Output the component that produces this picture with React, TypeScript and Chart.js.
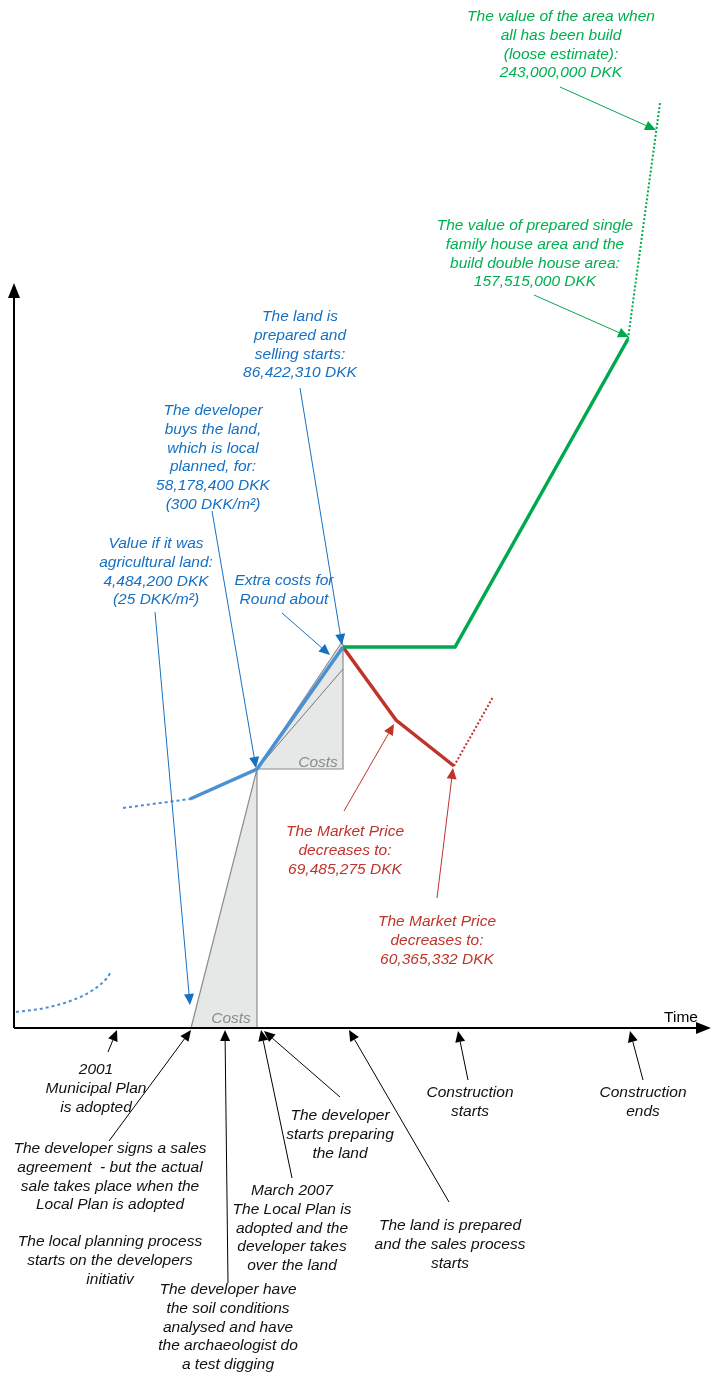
import React, { useEffect, useRef } from "react";
import { Chart, registerables } from "chart.js";

Chart.register(...registerables);

// ---- Data (x = time, y = value; origin where the two axes meet) ----
const bluePreTime = [16, 45, 73, 93, 107, 111];
const bluePreValue = [16, 20, 28, 38, 50, 56];
const blueDotTime = [123, 190];
const blueDotValue = [220, 229];
const blueTime = [190, 257, 343];
const blueValue = [229, 259, 381];
const greenTime = [343, 455, 628];
const greenValue = [381, 381, 689];
const greenDotTime = [628, 660];
const greenDotValue = [689, 925];
const redTime = [343, 396, 454];
const redValue = [381, 308, 262];
const redDotTime = [454, 493];
const redDotValue = [262, 331];
const costLowTime = [191, 257, 257, 191];
const costLowValue = [0, 259, 0, 0];
const costHighTime = [257, 342, 343, 343, 257];
const costHighValue = [259, 386, 383, 259, 259];
const costInnerTime = [257, 343];
const costInnerValue = [259, 359];
const timeAxisTime = [14, 711];
const valueAxisValue = [0, 745];

// ---- Annotation texts ----
const greenNotes = [
  ["The value of the area when", "all has been build", "(loose estimate):", "243,000,000 DKK"],
  ["The value of prepared single", "family house area and the", "build double house area:", "157,515,000 DKK"],
];
const blueNotes = [
  ["The land is", "prepared and", "selling starts:", "86,422,310 DKK"],
  ["The developer", "buys the land,", "which is local", "planned, for:", "58,178,400 DKK", "(300 DKK/m²)"],
  ["Value if it was", "agricultural land:", "4,484,200 DKK", "(25 DKK/m²)"],
  ["Extra costs for", "Round about"],
];
const redNotes = [
  ["The Market Price", "decreases to:", "69,485,275 DKK"],
  ["The Market Price", "decreases to:", "60,365,332 DKK"],
];
const blackNotes = [
  ["2001", "Municipal Plan", "is adopted"],
  ["The developer signs a sales", "agreement  - but the actual", "sale takes place when the", "Local Plan is adopted"],
  ["The local planning process", "starts on the developers", "initiativ"],
  ["The developer have", "the soil conditions", "analysed and have", "the archaeologist do", "a test digging"],
  ["March 2007", "The Local Plan is", "adopted and the", "developer takes", "over the land"],
  ["The developer", "starts preparing", "the land"],
  ["The land is prepared", "and the sales process", "starts"],
  ["Construction", "starts"],
  ["Construction", "ends"],
];
const costLabel = "Costs";
const timeLabel = "Time";

// ---- Layout (label centre [time, value of first line], arrow [from, to] or null) ----
type Layout = { at: [number, number]; arrow: [number, number, number, number] | null };
const greenLayout: Layout[] = [
  { at: [561, 1011], arrow: [560, 941, 656, 898] },
  { at: [535, 802], arrow: [534, 733, 629, 691] },
];
const blueLayout: Layout[] = [
  { at: [300, 711], arrow: [300, 640, 342, 383] },
  { at: [213, 617], arrow: [212, 517, 256, 260] },
  { at: [156, 484], arrow: [155, 416, 190, 23] },
  { at: [284, 447], arrow: [282, 415, 330, 373] },
];
const redLayout: Layout[] = [
  { at: [345, 196], arrow: [344, 217, 394, 304] },
  { at: [437, 106], arrow: [437, 130, 453, 260] },
];
const blackLayout: Layout[] = [
  { at: [96, -42], arrow: [108, -24, 117, -2] },
  { at: [110, -121], arrow: [109, -113, 191, -2] },
  { at: [110, -214], arrow: null },
  { at: [228, -262], arrow: [228, -255, 225, -2] },
  { at: [292, -163], arrow: [292, -150, 261, -2] },
  { at: [340, -88], arrow: [340, -69, 264, -3] },
  { at: [450, -198], arrow: [449, -174, 349, -2] },
  { at: [470, -65], arrow: [468, -52, 458, -3] },
  { at: [643, -65], arrow: [643, -52, 630, -3] },
];

const GREEN = "#00a84f";
const GREEN_TEXT = "#00b050";
const BLUE_LINE = "#4a90d3";
const BLUE_TEXT = "#1670c2";
const RED = "#c0332b";
const GRAY_FILL = "#e6e7e7";
const GRAY_LINE = "#8c8c8c";
const FONT = 'italic 15.5px "Liberation Sans", Arial, sans-serif';
const LINE_H = 18.7;

const pts = (xs: number[], ys: number[]) => xs.map((x, i) => ({ x, y: ys[i] }));

function drawArrow(ctx: CanvasRenderingContext2D, x0: number, y0: number, x1: number, y1: number, color: string, width: number, head: number, half: number) {
  const a = Math.atan2(y1 - y0, x1 - x0);
  const bx = x1 - Math.cos(a) * head;
  const by = y1 - Math.sin(a) * head;
  ctx.save();
  ctx.strokeStyle = color;
  ctx.fillStyle = color;
  ctx.lineWidth = width;
  ctx.setLineDash([]);
  ctx.beginPath();
  ctx.moveTo(x0, y0);
  ctx.lineTo(bx, by);
  ctx.stroke();
  ctx.beginPath();
  ctx.moveTo(x1, y1);
  ctx.lineTo(bx + Math.sin(a) * half, by - Math.cos(a) * half);
  ctx.lineTo(bx - Math.sin(a) * half, by + Math.cos(a) * half);
  ctx.closePath();
  ctx.fill();
  ctx.restore();
}

const notesPlugin = {
  id: "notes",
  afterDatasetsDraw(chart: any) {
    const ctx: CanvasRenderingContext2D = chart.ctx;
    const sx = chart.scales.x;
    const sy = chart.scales.y;
    const X = (v: number) => sx.getPixelForValue(v);
    const Y = (v: number) => sy.getPixelForValue(v);

    // axes arrows
    drawArrow(ctx, X(timeAxisTime[0]), Y(0), X(timeAxisTime[1]), Y(0), "#000", 2, 15, 6);
    drawArrow(ctx, X(timeAxisTime[0]), Y(valueAxisValue[0]), X(timeAxisTime[0]), Y(valueAxisValue[1]), "#000", 2, 15, 6);

    const groups: [string[][], Layout[], string, string][] = [
      [greenNotes, greenLayout, GREEN_TEXT, GREEN],
      [blueNotes, blueLayout, BLUE_TEXT, BLUE_TEXT],
      [redNotes, redLayout, RED, RED],
      [blackNotes, blackLayout, "#111", "#000"],
    ];
    ctx.save();
    ctx.font = FONT;
    ctx.textAlign = "center";
    ctx.textBaseline = "middle";
    for (const [notes, layout, tc, ac] of groups) {
      notes.forEach((lines, i) => {
        const l = layout[i];
        ctx.fillStyle = tc;
        lines.forEach((t, j) => ctx.fillText(t, X(l.at[0]), Y(l.at[1]) + j * LINE_H));
        if (l.arrow) {
          const [a, b, c, d] = l.arrow;
          drawArrow(ctx, X(a), Y(b), X(c), Y(d), ac, 1, 11, 5);
        }
      });
    }
    ctx.fillStyle = "#8c8c8c";
    ctx.fillText(costLabel, X(231), Y(9));
    ctx.fillText(costLabel, X(318), Y(265));
    ctx.fillStyle = "#000";
    ctx.font = '15.5px "Liberation Sans", Arial, sans-serif';
    ctx.fillText(timeLabel, X(681), Y(10));
    ctx.restore();
  },
};

export default function App() {
  const ref = useRef<HTMLCanvasElement>(null);
  useEffect(() => {
    if (!ref.current) return;
    const base = { showLine: true, pointRadius: 0, clip: false as any, fill: false, tension: 0 };
    const chart = new Chart(ref.current, {
      type: "scatter",
      data: {
        datasets: [
          { ...base, data: pts(blueTime, blueValue), borderColor: BLUE_LINE, borderWidth: 3.5, order: 1 },
          { ...base, data: pts(greenTime, greenValue), borderColor: GREEN, borderWidth: 3.5, order: 1 },
          { ...base, data: pts(redTime, redValue), borderColor: RED, borderWidth: 3.5, order: 1 },
          { ...base, data: pts(blueDotTime, blueDotValue), borderColor: BLUE_LINE, borderWidth: 2, borderDash: [3, 3], order: 1 },
          { ...base, data: pts(bluePreTime, bluePreValue), borderColor: BLUE_LINE, borderWidth: 2, borderDash: [3, 3], tension: 0.4, cubicInterpolationMode: "monotone", order: 1 },
          { ...base, data: pts(greenDotTime, greenDotValue), borderColor: GREEN, borderWidth: 2, borderDash: [2, 2], order: 1 },
          { ...base, data: pts(redDotTime, redDotValue), borderColor: RED, borderWidth: 2, borderDash: [2, 2], order: 1 },
          { ...base, data: pts(costInnerTime, costInnerValue), borderColor: "#777", borderWidth: 1, order: 2 },
          { ...base, data: pts(costLowTime, costLowValue), borderColor: GRAY_LINE, backgroundColor: GRAY_FILL, borderWidth: 1.2, fill: "shape", order: 3 },
          { ...base, data: pts(costHighTime, costHighValue), borderColor: GRAY_LINE, backgroundColor: GRAY_FILL, borderWidth: 1.2, fill: "shape", order: 3 },
        ] as any,
      },
      options: {
        animation: false,
        responsive: false,
        devicePixelRatio: 1,
        layout: { padding: 0 },
        plugins: { legend: { display: false }, tooltip: { enabled: false }, title: { display: false } },
        events: [],
        scales: {
          x: { type: "linear", min: 0, max: 711, display: false },
          y: { type: "linear", min: -346, max: 1028, display: false },
        },
      },
      plugins: [notesPlugin],
    });
    return () => chart.destroy();
  }, []);
  return (
    <div style={{ position: "absolute", left: 0, top: 0, width: 711, height: 1374, background: "#fff" }}>
      <canvas ref={ref} width={711} height={1374} style={{ display: "block" }} />
    </div>
  );
}
